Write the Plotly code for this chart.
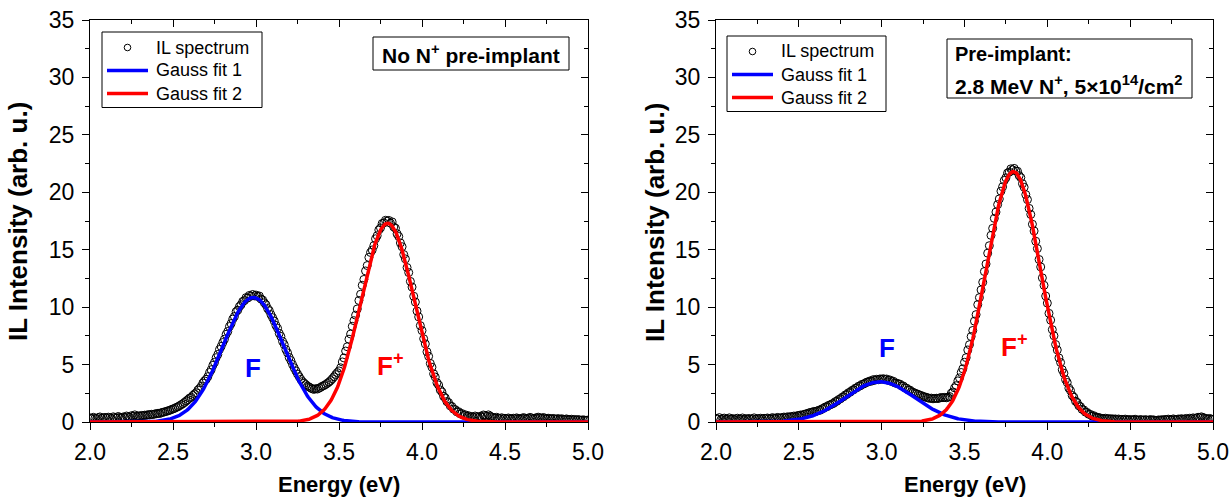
import numpy as np
import plotly.graph_objects as go

# ---------------------------------------------------------------- data
# photon energy grid of the IL spectra (eV), 0.01 eV step
energy = np.round(np.arange(2.00, 5.001, 0.01), 2)

# IL spectrum without N+ pre-implant (arb. u.)
il_no_implant = [
    0.35, 0.28, 0.41, 0.33, 0.30, 0.38, 0.44, 0.31, 0.36, 0.40,
    0.33, 0.42, 0.37, 0.29, 0.45, 0.39, 0.34, 0.48, 0.41, 0.36,
    0.44, 0.39, 0.52, 0.46, 0.41, 0.55, 0.49, 0.62, 0.47, 0.53,
    0.52, 0.57, 0.55, 0.60, 0.58, 0.64, 0.62, 0.67, 0.65, 0.70,
    0.72, 0.76, 0.74, 0.81, 0.85, 0.88, 0.93, 0.97, 1.02, 1.08,
    1.14, 1.19, 1.27, 1.33, 1.42, 1.51, 1.60, 1.71, 1.83, 1.95,
    2.08, 2.15, 2.31, 2.44, 2.55, 2.78, 2.92, 3.10, 3.39, 3.58,
    3.72, 3.95, 4.31, 4.55, 4.93, 5.19, 5.60, 5.88, 6.31, 6.58,
    6.92, 7.21, 7.63, 7.88, 8.31, 8.57, 8.96, 9.18, 9.60, 9.74,
    10.05, 10.21, 10.49, 10.57, 10.83, 10.79, 11.02, 10.96, 11.10, 10.98,
    11.05, 10.92, 10.97, 10.71, 10.62, 10.38, 10.21, 9.88, 9.70, 9.35,
    9.08, 8.79, 8.41, 8.15, 7.72, 7.45, 7.02, 6.74, 6.31, 6.02,
    5.62, 5.35, 5.01, 4.72, 4.45, 4.18, 3.95, 3.71, 3.52, 3.38,
    3.25, 3.12, 3.05, 2.96, 2.88, 2.84, 2.91, 2.87, 2.95, 3.02,
    3.12, 3.18, 3.27, 3.37, 3.48, 3.61, 3.77, 3.94, 4.13, 4.30,
    4.45, 4.72, 5.23, 5.58, 6.18, 6.55, 7.21, 7.66, 8.33, 8.82,
    9.30, 9.84, 10.58, 11.12, 11.90, 12.41, 13.15, 13.62, 14.33, 14.76,
    14.98, 15.36, 15.95, 16.22, 16.72, 16.90, 17.28, 17.33, 17.56, 17.49,
    17.55, 17.31, 17.42, 16.98, 16.87, 16.38, 16.15, 15.59, 15.26, 14.58,
    14.20, 13.45, 13.01, 12.24, 11.75, 10.95, 10.44, 9.66, 9.15, 8.39,
    7.96, 7.25, 6.80, 6.11, 5.72, 5.10, 4.77, 4.19, 3.91, 3.42,
    3.22, 2.79, 2.62, 2.24, 2.10, 1.78, 1.69, 1.41, 1.35, 1.12,
    1.08, 0.88, 0.90, 0.72, 0.74, 0.58, 0.63, 0.50, 0.55, 0.44,
    0.47, 0.41, 0.52, 0.45, 0.38, 0.50, 0.43, 0.61, 0.55, 0.48,
    0.62, 0.51, 0.44, 0.39, 0.35, 0.41, 0.33, 0.30, 0.37, 0.29,
    0.32, 0.27, 0.35, 0.30, 0.26, 0.33, 0.28, 0.36, 0.31, 0.25,
    0.30, 0.38, 0.34, 0.27, 0.32, 0.40, 0.35, 0.29, 0.33, 0.37,
    0.42, 0.36, 0.31, 0.39, 0.34, 0.28, 0.33, 0.30, 0.26, 0.31,
    0.27, 0.24, 0.30, 0.22, 0.28, 0.25, 0.21, 0.27, 0.23, 0.20,
    0.24, 0.19, 0.22, 0.17, 0.21, 0.18, 0.15, 0.19, 0.16, 0.14,
    0.17,
]

# IL spectrum after 2.8 MeV N+ pre-implant, 5e14 /cm2 (arb. u.)
il_pre_implant = [
    0.32, 0.25, 0.38, 0.21, 0.29, 0.34, 0.22, 0.27, 0.36, 0.24,
    0.30, 0.19, 0.28, 0.33, 0.23, 0.26, 0.35, 0.21, 0.29, 0.25,
    0.31, 0.22, 0.27, 0.36, 0.24, 0.30, 0.28, 0.33, 0.26, 0.32,
    0.29, 0.35, 0.31, 0.27, 0.38, 0.33, 0.30, 0.40, 0.36, 0.34,
    0.39, 0.43, 0.37, 0.45, 0.41, 0.48, 0.44, 0.52, 0.47, 0.55,
    0.56, 0.61, 0.58, 0.66, 0.70, 0.72, 0.79, 0.83, 0.85, 0.92,
    0.90, 0.96, 1.02, 1.03, 1.15, 1.19, 1.31, 1.33, 1.45, 1.49,
    1.58, 1.62, 1.77, 1.81, 1.95, 2.01, 2.14, 2.20, 2.35, 2.40,
    2.55, 2.60, 2.74, 2.80, 2.93, 2.98, 3.11, 3.14, 3.27, 3.30,
    3.38, 3.47, 3.49, 3.58, 3.56, 3.69, 3.64, 3.72, 3.68, 3.75,
    3.72, 3.77, 3.70, 3.74, 3.62, 3.66, 3.52, 3.55, 3.40, 3.39,
    3.31, 3.30, 3.15, 3.14, 2.98, 2.95, 2.80, 2.78, 2.65, 2.58,
    2.52, 2.46, 2.41, 2.33, 2.30, 2.22, 2.19, 2.14, 2.10, 2.05,
    2.08, 2.02, 2.05, 2.07, 2.04, 2.10, 2.13, 2.12, 2.14, 2.11,
    2.15, 2.22, 2.50, 2.62, 2.97, 3.16, 3.58, 3.84, 4.31, 4.63,
    5.20, 5.60, 6.27, 6.73, 7.44, 7.97, 8.78, 9.35, 10.22, 10.83,
    11.50, 12.17, 13.10, 13.76, 14.70, 15.35, 16.25, 16.86, 17.73, 18.28,
    18.93, 19.42, 20.10, 20.48, 21.03, 21.26, 21.68, 21.75, 22.04, 21.95,
    22.08, 21.85, 21.83, 21.45, 21.28, 20.75, 20.44, 19.80, 19.36, 18.60,
    18.07, 17.22, 16.63, 15.74, 15.10, 14.15, 13.50, 12.55, 11.90, 10.97,
    10.35, 9.46, 8.87, 8.04, 7.51, 6.75, 6.27, 5.58, 5.18, 4.55,
    4.25, 3.70, 3.44, 2.95, 2.73, 2.31, 2.16, 1.81, 1.70, 1.42,
    1.33, 1.10, 1.05, 0.86, 0.83, 0.67, 0.66, 0.52, 0.55, 0.43,
    0.42, 0.38, 0.35, 0.31, 0.29, 0.33, 0.27, 0.30, 0.25, 0.28,
    0.24, 0.27, 0.22, 0.26, 0.20, 0.23, 0.19, 0.25, 0.21, 0.18,
    0.22, 0.17, 0.20, 0.24, 0.18, 0.15, 0.21, 0.19, 0.16, 0.20,
    0.18, 0.14, 0.21, 0.17, 0.19, 0.15, 0.13, 0.18, 0.16, 0.20,
    0.17, 0.22, 0.19, 0.25, 0.21, 0.18, 0.27, 0.23, 0.20, 0.26,
    0.24, 0.29, 0.22, 0.27, 0.31, 0.25, 0.33, 0.28, 0.36, 0.30,
    0.34, 0.41, 0.37, 0.45, 0.39, 0.33, 0.29, 0.26, 0.31, 0.24,
    0.22,
]

# Gaussian fit parameters: [amplitude, centre (eV), sigma (eV)]
fit1_no_implant = [10.85, 2.984, 0.184]   # F band
fit2_no_implant = [17.30, 3.793, 0.162]   # F+ band
fit1_pre_implant = [3.50, 2.990, 0.210]
fit2_pre_implant = [21.80, 3.795, 0.165]

series_names = ["IL spectrum", "Gauss fit 1", "Gauss fit 2"]
x_ticks = [2.0, 2.5, 3.0, 3.5, 4.0, 4.5, 5.0]
y_ticks = [0, 5, 10, 15, 20, 25, 30, 35]

# ---------------------------------------------------------------- styling
W, H = 1232, 497
FONT = "Arial, 'Liberation Sans', sans-serif"
BLUE = "#0000ff"
RED = "#ff0000"

e_fine = np.linspace(2.0, 5.0, 601)


def gauss(p, e):
    a, c, s = p
    return a * np.exp(-((e - c) ** 2) / (2.0 * s * s))


def px_x(p):
    return p / W


def px_y(p):
    return 1.0 - p / H


fig = go.Figure()

panels = [
    dict(xa="x", ya="y", xo="x3", yo="y3",
         data=il_no_implant, f1=fit1_no_implant, f2=fit2_no_implant),
    dict(xa="x2", ya="y2", xo="x4", yo="y4",
         data=il_pre_implant, f1=fit1_pre_implant, f2=fit2_pre_implant),
]

for p in panels:
    fig.add_trace(go.Scatter(
        x=energy, y=p["data"], mode="markers", name=series_names[0],
        xaxis=p["xa"], yaxis=p["ya"], showlegend=False,
        marker=dict(symbol="circle-open", size=8, color="black",
                    line=dict(width=1, color="black")),
    ))
    fig.add_trace(go.Scatter(
        x=e_fine, y=gauss(p["f1"], e_fine), mode="lines", name=series_names[1],
        xaxis=p["xa"], yaxis=p["ya"], showlegend=False,
        line=dict(color=BLUE, width=3.5),
    ))
    fig.add_trace(go.Scatter(
        x=e_fine, y=gauss(p["f2"], e_fine), mode="lines", name=series_names[2],
        xaxis=p["xa"], yaxis=p["ya"], showlegend=False,
        line=dict(color=RED, width=3.5),
    ))
    # carrier trace for the mirrored top/right frame axes
    fig.add_trace(go.Scatter(
        x=[2.0, 5.0], y=[0, 0], mode="lines", xaxis=p["xo"], yaxis=p["yo"],
        line=dict(width=0, color="rgba(0,0,0,0)"), showlegend=False,
        hoverinfo="skip",
    ))

y_dom = [px_y(422), px_y(20)]
x_doms = [[px_x(90), px_x(588)], [px_x(716), px_x(1213)]]

tickfont = dict(family=FONT, size=23, color="black")
common = dict(showline=True, linecolor="black", linewidth=1.3, showgrid=False,
              zeroline=False, tickcolor="black", tickwidth=1.3,
              automargin=False)


def bottom_x(dom, anchor):
    return dict(domain=dom, anchor=anchor, range=[2.0, 5.0], tickvals=x_ticks,
                ticktext=[f"{v:.1f}" for v in x_ticks], ticks="outside",
                ticklen=7, tickfont=tickfont, ticklabelstandoff=2,
                minor=dict(dtick=0.25, tick0=2.0, ticks="outside", ticklen=4,
                           tickwidth=1.3, tickcolor="black", showgrid=False),
                **common)


def left_y(anchor):
    return dict(domain=y_dom, anchor=anchor, range=[0, 35], tickvals=y_ticks,
                ticks="outside", ticklen=7, tickfont=tickfont,
                ticklabelstandoff=3,
                minor=dict(dtick=2.5, tick0=0, ticks="outside", ticklen=4,
                           tickwidth=1.3, tickcolor="black", showgrid=False),
                **common)


def top_x(over, anchor):
    return dict(overlaying=over, anchor=anchor, side="top", range=[2.0, 5.0],
                tickvals=x_ticks, ticks="inside", ticklen=7,
                showticklabels=False,
                minor=dict(dtick=0.25, tick0=2.0, ticks="inside", ticklen=4,
                           tickwidth=1.3, tickcolor="black", showgrid=False),
                **common)


def right_y(over, anchor):
    return dict(overlaying=over, anchor=anchor, side="right", range=[0, 35],
                tickvals=y_ticks, ticks="inside", ticklen=7,
                showticklabels=False,
                minor=dict(dtick=2.5, tick0=0, ticks="inside", ticklen=4,
                           tickwidth=1.3, tickcolor="black", showgrid=False),
                **common)


fig.update_layout(
    width=W, height=H, autosize=False, showlegend=False,
    margin=dict(l=0, r=0, t=0, b=0, autoexpand=False),
    paper_bgcolor="white", plot_bgcolor="white",
    font=dict(family=FONT, color="black"),
    xaxis=bottom_x(x_doms[0], "y"),
    yaxis=left_y("x"),
    xaxis2=bottom_x(x_doms[1], "y2"),
    yaxis2=left_y("x2"),
    xaxis3=top_x("x", "y"),
    yaxis3=right_y("y", "x"),
    xaxis4=top_x("x2", "y2"),
    yaxis4=right_y("y2", "x2"),
)

annotations = []
shapes = []

for i, dom in enumerate(x_doms):
    annotations.append(dict(
        text="<b>Energy (eV)</b>", x=(dom[0] + dom[1]) / 2, y=px_y(484),
        xref="paper", yref="paper", showarrow=False,
        font=dict(family=FONT, size=22, color="black"),
        xanchor="center", yanchor="middle"))
for xc in (18, 655):
    annotations.append(dict(
        text="<b>IL Intensity (arb. u.)</b>", x=px_x(xc), y=px_y(222),
        xref="paper", yref="paper", showarrow=False,
        font=dict(family=FONT, size=26, color="black"),
        textangle=-90, xanchor="center", yanchor="middle"))


# legend boxes (one per panel): symbol column + label column
def add_legend(left, top, width, row_h):
    rows = [top + 15.5 + k * row_h for k in range(3)]
    shapes.append(dict(type="rect", xref="paper", yref="paper",
                       x0=px_x(left), x1=px_x(left + width),
                       y0=px_y(rows[-1] + 14), y1=px_y(top),
                       line=dict(color="black", width=1), fillcolor="white",
                       layer="above"))
    cx = left + 25.5
    shapes.append(dict(type="circle", xref="paper", yref="paper",
                       x0=px_x(cx - 3.3), x1=px_x(cx + 3.3),
                       y0=px_y(rows[0] + 3.3), y1=px_y(rows[0] - 3.3),
                       line=dict(color="black", width=1), layer="above"))
    for k, col in ((1, BLUE), (2, RED)):
        shapes.append(dict(type="line", xref="paper", yref="paper",
                           x0=px_x(left + 5), x1=px_x(left + 46),
                           y0=px_y(rows[k]), y1=px_y(rows[k]),
                           line=dict(color=col, width=3.5), layer="above"))
    for k, name in enumerate(series_names):
        annotations.append(dict(
            text=name, x=px_x(left + 52), y=px_y(rows[k]), xref="paper",
            yref="paper", showarrow=False, xanchor="left", yanchor="middle",
            font=dict(family=FONT, size=18, color="black")))


add_legend(102, 32, 160, 23)
add_legend(727, 36, 159, 23)

# band labels
band_font = 26
annotations += [
    dict(text="<b>F</b>", x=2.982, y=4.7, xref="x", yref="y", showarrow=False,
         font=dict(family=FONT, size=band_font, color=BLUE)),
    dict(text="<b>F<sup>+</sup></b>", x=3.81, y=5.0, xref="x", yref="y",
         showarrow=False, font=dict(family=FONT, size=band_font, color=RED)),
    dict(text="<b>F</b>", x=3.03, y=6.4, xref="x2", yref="y2", showarrow=False,
         font=dict(family=FONT, size=band_font, color=BLUE)),
    dict(text="<b>F<sup>+</sup></b>", x=3.80, y=6.7, xref="x2", yref="y2",
         showarrow=False, font=dict(family=FONT, size=band_font, color=RED)),
]

# sample description boxes
annotations += [
    dict(text="<b>No N<sup>+</sup> pre-implant</b>", x=px_x(471), y=px_y(54),
         xref="paper", yref="paper", showarrow=False,
         font=dict(family=FONT, size=21, color="black"),
         xanchor="center", yanchor="middle"),
    dict(text="<b>Pre-implant:</b>", x=px_x(953), y=px_y(54),
         xref="paper", yref="paper", showarrow=False,
         font=dict(family=FONT, size=20, color="black"),
         xanchor="left", yanchor="middle"),
    dict(text="<b>2.8 MeV N<sup>+</sup>, 5×10<sup>14</sup>/cm<sup>2</sup></b>",
         x=px_x(953), y=px_y(85), xref="paper", yref="paper", showarrow=False,
         font=dict(family=FONT, size=21, color="black"),
         xanchor="left", yanchor="middle"),
]
shapes += [
    dict(type="rect", xref="paper", yref="paper", x0=px_x(373), x1=px_x(569),
         y0=px_y(70), y1=px_y(37), line=dict(color="black", width=1),
         fillcolor="rgba(0,0,0,0)", layer="above"),
    dict(type="rect", xref="paper", yref="paper", x0=px_x(947), x1=px_x(1192),
         y0=px_y(98), y1=px_y(39), line=dict(color="black", width=1),
         fillcolor="rgba(0,0,0,0)", layer="above"),
]

fig.update_layout(annotations=annotations, shapes=shapes)

fig.write_html("out.html")
